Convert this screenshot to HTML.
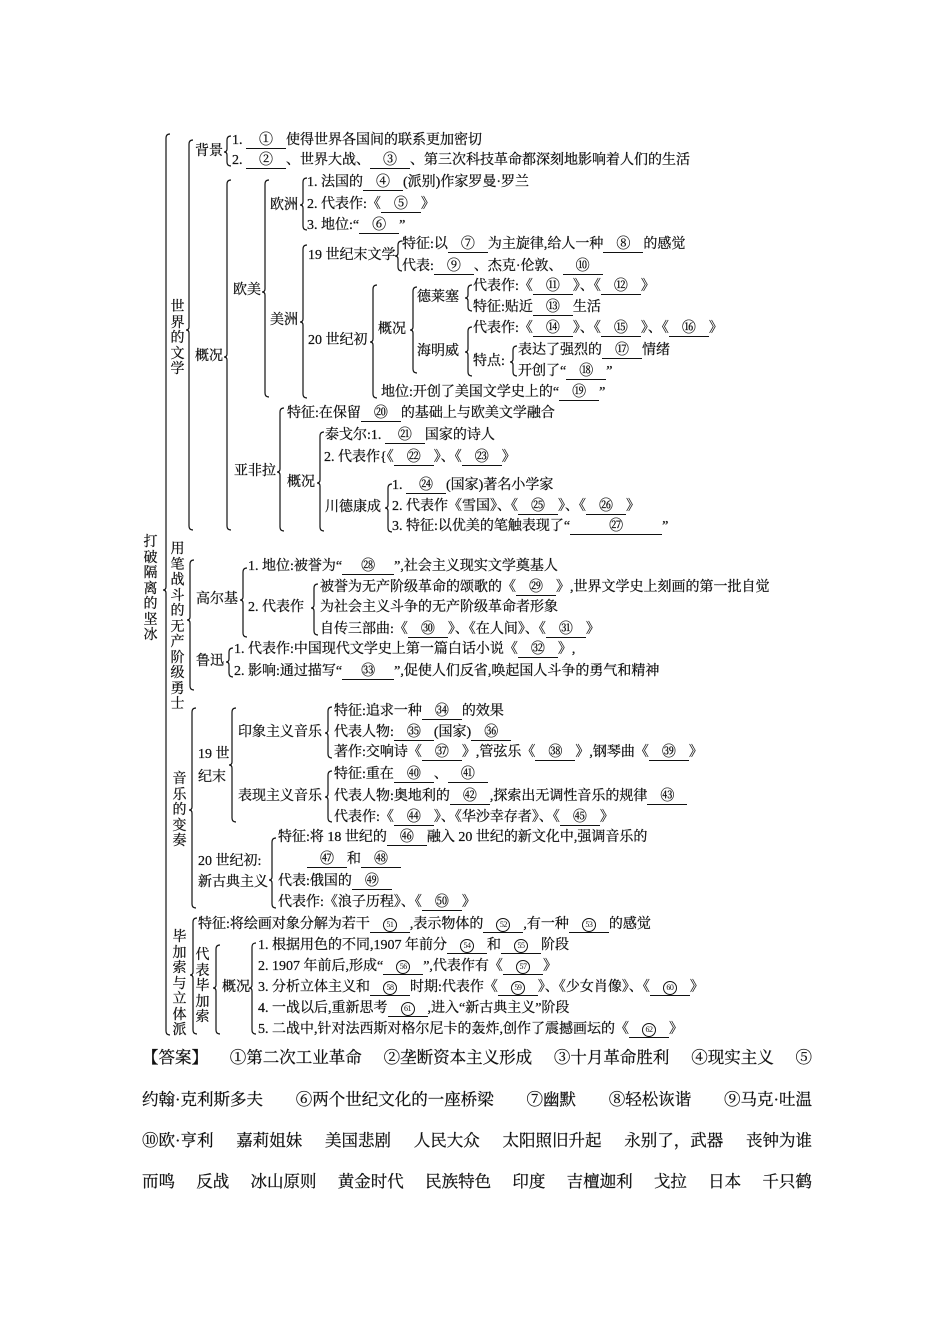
<!DOCTYPE html>
<html><head><meta charset="utf-8"><style>
body{margin:0;background:#fff;width:950px;height:1344px;position:relative;overflow:hidden;font-family:"Liberation Serif","Noto Serif CJK SC","Noto Sans CJK SC",serif;color:#111;-webkit-text-stroke:0.25px #111}
.t{position:absolute;font-size:14px;line-height:16px;white-space:nowrap}
.b{display:inline-block;border-bottom:1px solid #111;text-align:center;width:40px;line-height:14px}
.w{width:52px}.ww{width:92px}
.c{display:inline-block;width:12px;height:12px;border:1px solid #111;border-radius:50%;font-size:8px;line-height:12px;text-align:center;letter-spacing:-0.5px;vertical-align:1px;-webkit-text-stroke:0}
.v{position:absolute;font-size:14px;line-height:15.5px;width:15px;text-align:center;white-space:normal;word-break:break-all}
.a{position:absolute;left:142px;width:670px;font-size:16.5px;line-height:20px;display:flex;justify-content:space-between;white-space:nowrap}
svg{position:absolute;left:0;top:0}
</style></head><body>
<svg width="950" height="1344"><g fill="none" stroke="#111" stroke-width="1.2">
<path id="p"/>
</g></svg>
<script>
var B=[[166,134,1035,590],[189,140,530,330],[227,136,166,152],[227,180,530,357],[265,180,397,292],[303,178,230,205],[303,245,398,322],[398,241,271,256],[373,285,398,342],[413,287,373,330],[468,285,311,298],[468,327,376,352],[513,346,376,362],[280,408,531,472],[320,432,531,483],[388,484,532,508],[190,560,690,620],[243,568,637,600],[314,584,635,608],[229,648,677,662],[192,708,908,810],[232,708,822,765],[328,707,758,733],[328,771,822,797],[272,838,908,880],[193,918,1034,975],[216,945,1034,988],[252,943,1034,988]];
var d="";B.forEach(function(b){var x=b[0],a=b[1],e=b[2],m=b[3];d+="M"+(x+4)+" "+a+"Q"+x+" "+a+" "+x+" "+(a+4)+"L"+x+" "+(m-3)+"Q"+x+" "+m+" "+(x-3)+" "+m+"Q"+x+" "+m+" "+x+" "+(m+3)+"L"+x+" "+(e-4)+"Q"+x+" "+e+" "+(x+4)+" "+e;});
document.getElementById("p").setAttribute("d",d);
</script>
<div class="t" style="left:195px;top:144px">背景</div>
<div class="t" style="left:232px;top:133px">1. <span class="b">①</span>使得世界各国间的联系更加密切</div>
<div class="t" style="left:232px;top:153px">2. <span class="b">②</span>、世界大战、<span class="b">③</span>、第三次科技革命都深刻地影响着人们的生活</div>
<div class="v" style="left:170px;top:300px">世界的文学</div>
<div class="t" style="left:195px;top:349px">概况</div>
<div class="t" style="left:233px;top:283px">欧美</div>
<div class="t" style="left:270px;top:198px">欧洲</div>
<div class="t" style="left:307px;top:175px">1. 法国的<span class="b">④</span>(派别)作家罗曼·罗兰</div>
<div class="t" style="left:307px;top:197px">2. 代表作:《<span class="b">⑤</span>》</div>
<div class="t" style="left:307px;top:218px">3. 地位:“<span class="b">⑥</span>”</div>
<div class="t" style="left:270px;top:313px">美洲</div>
<div class="t" style="left:308px;top:248px">19 世纪末文学</div>
<div class="t" style="left:402px;top:237px">特征:以<span class="b">⑦</span>为主旋律,给人一种<span class="b">⑧</span>的感觉</div>
<div class="t" style="left:402px;top:259px">代表:<span class="b">⑨</span>、杰克·伦敦、<span class="b">⑩</span></div>
<div class="t" style="left:308px;top:333px">20 世纪初</div>
<div class="t" style="left:378px;top:322px">概况</div>
<div class="t" style="left:417px;top:290px">德莱塞</div>
<div class="t" style="left:473px;top:279px">代表作:《<span class="b">⑪</span>》、《<span class="b">⑫</span>》</div>
<div class="t" style="left:473px;top:300px">特征:贴近<span class="b">⑬</span>生活</div>
<div class="t" style="left:417px;top:344px">海明威</div>
<div class="t" style="left:473px;top:321px">代表作:《<span class="b">⑭</span>》、《<span class="b">⑮</span>》、《<span class="b">⑯</span>》</div>
<div class="t" style="left:473px;top:354px">特点:</div>
<div class="t" style="left:518px;top:343px">表达了强烈的<span class="b">⑰</span>情绪</div>
<div class="t" style="left:518px;top:364px">开创了“<span class="b">⑱</span>”</div>
<div class="t" style="left:381px;top:385px">地位:开创了美国文学史上的“<span class="b">⑲</span>”</div>
<div class="t" style="left:287px;top:406px">特征:在保留<span class="b">⑳</span>的基础上与欧美文学融合</div>
<div class="t" style="left:234px;top:464px">亚非拉</div>
<div class="t" style="left:287px;top:475px">概况</div>
<div class="t" style="left:325px;top:428px">泰戈尔:1. <span class="b">㉑</span>国家的诗人</div>
<div class="t" style="left:324px;top:450px">2. 代表作{《<span class="b">㉒</span>》、《<span class="b">㉓</span>》</div>
<div class="t" style="left:325px;top:500px">川德康成</div>
<div class="t" style="left:392px;top:478px">1. <span class="b">㉔</span>(国家)著名小学家</div>
<div class="t" style="left:392px;top:499px">2. 代表作《雪国》、《<span class="b">㉕</span>》、《<span class="b">㉖</span>》</div>
<div class="t" style="left:392px;top:519px">3. 特征:以优美的笔触表现了“<span class="b ww">㉗</span>”</div>
<div class="v" style="left:143px;top:535px">打破隔离的坚冰</div>
<div class="v" style="left:170px;top:542px">用笔战斗的无产阶级勇士</div>
<div class="t" style="left:248px;top:559px">1. 地位:被誉为“<span class="b w">㉘</span>”,社会主义现实文学奠基人</div>
<div class="t" style="left:196px;top:592px">高尔基</div>
<div class="t" style="left:248px;top:600px">2. 代表作</div>
<div class="t" style="left:320px;top:580px">被誉为无产阶级革命的颂歌的《<span class="b">㉙</span>》,世界文学史上刻画的第一批自觉</div>
<div class="t" style="left:320px;top:600px">为社会主义斗争的无产阶级革命者形象</div>
<div class="t" style="left:320px;top:622px">自传三部曲:《<span class="b">㉚</span>》、《在人间》、《<span class="b">㉛</span>》</div>
<div class="t" style="left:196px;top:654px">鲁迅</div>
<div class="t" style="left:234px;top:642px">1. 代表作:中国现代文学史上第一篇白话小说《<span class="b">㉜</span>》,</div>
<div class="t" style="left:234px;top:664px">2. 影响:通过描写“<span class="b w">㉝</span>”,促使人们反省,唤起国人斗争的勇气和精神</div>
<div class="v" style="left:172px;top:772px">音乐的变奏</div>
<div class="t" style="left:198px;top:747px">19 世</div>
<div class="t" style="left:198px;top:770px">纪末</div>
<div class="t" style="left:238px;top:725px">印象主义音乐</div>
<div class="t" style="left:334px;top:704px">特征:追求一种<span class="b">㉞</span>的效果</div>
<div class="t" style="left:334px;top:725px">代表人物:<span class="b">㉟</span>(国家)<span class="b">㊱</span></div>
<div class="t" style="left:334px;top:745px">著作:交响诗《<span class="b">㊲</span>》,管弦乐《<span class="b">㊳</span>》,钢琴曲《<span class="b">㊴</span>》</div>
<div class="t" style="left:238px;top:789px">表现主义音乐</div>
<div class="t" style="left:334px;top:767px">特征:重在<span class="b">㊵</span>、<span class="b">㊶</span></div>
<div class="t" style="left:334px;top:789px">代表人物:奥地利的<span class="b">㊷</span>,探索出无调性音乐的规律<span class="b">㊸</span></div>
<div class="t" style="left:334px;top:810px">代表作:《<span class="b">㊹</span>》、《华沙幸存者》、《<span class="b">㊺</span>》</div>
<div class="t" style="left:198px;top:854px">20 世纪初:</div>
<div class="t" style="left:198px;top:875px">新古典主义</div>
<div class="t" style="left:278px;top:830px">特征:将 18 世纪的<span class="b">㊻</span>融入 20 世纪的新文化中,强调音乐的</div>
<div class="t" style="left:307px;top:852px"><span class="b">㊼</span>和<span class="b">㊽</span></div>
<div class="t" style="left:278px;top:874px">代表:俄国的<span class="b">㊾</span></div>
<div class="t" style="left:278px;top:895px">代表作:《浪子历程》、《<span class="b">㊿</span>》</div>
<div class="v" style="left:172px;top:930px">毕加索与立体派</div>
<div class="t" style="left:198px;top:917px">特征:将绘画对象分解为若干<span class="b"><span class="c">51</span></span>,表示物体的<span class="b"><span class="c">52</span></span>,有一种<span class="b"><span class="c">53</span></span>的感觉</div>
<div class="v" style="left:195px;top:948px">代表毕加索</div>
<div class="t" style="left:222px;top:980px">概况</div>
<div class="t" style="left:258px;top:938px">1. 根据用色的不同,1907 年前分<span class="b"><span class="c">54</span></span>和<span class="b"><span class="c">55</span></span>阶段</div>
<div class="t" style="left:258px;top:959px">2. 1907 年前后,形成“<span class="b"><span class="c">56</span></span>”,代表作有《<span class="b"><span class="c">57</span></span>》</div>
<div class="t" style="left:258px;top:980px">3. 分析立体主义和<span class="b"><span class="c">58</span></span>时期:代表作《<span class="b"><span class="c">59</span></span>》、《少女肖像》、《<span class="b"><span class="c">60</span></span>》</div>
<div class="t" style="left:258px;top:1001px">4. 一战以后,重新思考<span class="b"><span class="c">61</span></span>,进入“新古典主义”阶段</div>
<div class="t" style="left:258px;top:1022px">5. 二战中,针对法西斯对格尔尼卡的轰炸,创作了震撼画坛的《<span class="b"><span class="c">62</span></span>》</div>
<div class="a" style="top:1048px"><span>【答案】</span><span>①第二次工业革命</span><span>②垄断资本主义形成</span><span>③十月革命胜利</span><span>④现实主义</span><span>⑤</span></div>
<div class="a" style="top:1090px"><span>约翰·克利斯多夫</span><span>⑥两个世纪文化的一座桥梁</span><span>⑦幽默</span><span>⑧轻松诙谐</span><span>⑨马克·吐温</span></div>
<div class="a" style="top:1131px"><span>⑩欧·亨利</span><span>嘉莉姐妹</span><span>美国悲剧</span><span>人民大众</span><span>太阳照旧升起</span><span>永别了，武器</span><span>丧钟为谁</span></div>
<div class="a" style="top:1172px"><span>而鸣</span><span>反战</span><span>冰山原则</span><span>黄金时代</span><span>民族特色</span><span>印度</span><span>吉檀迦利</span><span>戈拉</span><span>日本</span><span>千只鹤</span></div>
</body></html>
